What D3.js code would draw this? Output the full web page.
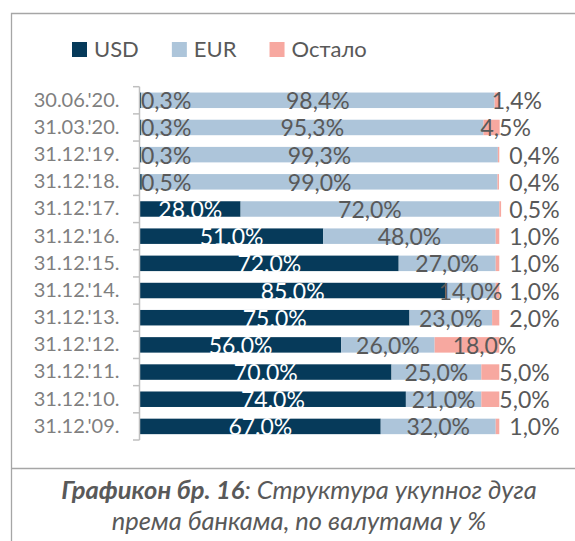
<!DOCTYPE html>
<html>
<head>
    <meta charset="UTF-8">
    <script src="https://d3js.org/d3.v7.min.js"></script>
    <style>
        body {
            margin: 0;
            background: #ffffff;
            font-family: Lato, "Open Sans", sans-serif;
        }
    </style>
</head>
<body>
    <div id="chart"></div>

    <script type="text/javascript">
        // chart values
        const categories = ["30.06.'20.", "31.03.'20.", "31.12.'19.", "31.12.'18.", "31.12.'17.",
            "31.12.'16.", "31.12.'15.", "31.12.'14.", "31.12.'13.", "31.12.'12.",
            "31.12.'11.", "31.12.'10.", "31.12.'09."];
        const usd = [0.3, 0.3, 0.3, 0.5, 28.0, 51.0, 72.0, 85.0, 75.0, 56.0, 70.0, 74.0, 67.0];
        const eur = [98.4, 95.3, 99.3, 99.0, 72.0, 48.0, 27.0, 14.0, 23.0, 26.0, 25.0, 21.0, 32.0];
        const other = [1.4, 4.5, 0.4, 0.4, 0.5, 1.0, 1.0, 1.0, 2.0, 18.0, 5.0, 5.0, 1.0];
        const seriesNames = ["USD", "EUR", "Остало"];
        const colors = ["#063a5a", "#adc5da", "#f7a8a0"];

        const W = 575, H = 541;
        const svg = d3.select("#chart").append("svg")
            .attr("width", W)
            .attr("height", H);

        // frame and caption separator
        svg.append("path")
            .attr("d", `M${W + 5},13.5 H11.5 V${H + 5}`)
            .attr("fill", "none")
            .attr("stroke", "#a6a6a6")
            .attr("stroke-width", 1.3);
        svg.append("line")
            .attr("x1", 11.5).attr("x2", W + 5)
            .attr("y1", 468.5).attr("y2", 468.5)
            .attr("stroke", "#a6a6a6")
            .attr("stroke-width", 1.3);

        // data table
        const table = categories.map((c, i) => ({ cat: c, USD: usd[i], EUR: eur[i], "Остало": other[i] }));
        const stacked = d3.stack().keys(seriesNames)(table);

        const x = d3.scaleLinear().domain([0, 100]).range([140, 499.3]);
        const y = d3.scaleBand().domain(categories).range([86.7, 440])
            .paddingInner(0.43).paddingOuter(0.215);

        // bars
        stacked.forEach((s, si) => {
            svg.append("g")
                .selectAll("rect")
                .data(s)
                .join("rect")
                .attr("x", d => x(d[0]))
                .attr("y", d => y(d.data.cat))
                .attr("width", d => Math.max(0, x(d[1]) - x(d[0])))
                .attr("height", y.bandwidth())
                .attr("fill", colors[si]);
        });

        // category axis (labels only) + boundary ticks
        const yAxis = svg.append("g")
            .attr("transform", "translate(139.5,0)")
            .call(d3.axisLeft(y).tickSize(0).tickPadding(20));
        yAxis.select(".domain").remove();
        yAxis.selectAll("text")
            .style("font-family", "Lato, 'Open Sans', sans-serif")
            .style("font-size", "20px")
            .attr("fill", "#7f7f7f");

        const bounds = categories.map(c => y(c) - y.step() * y.paddingInner() / 2).concat([y.range()[1]]);
        svg.append("line")
            .attr("x1", 139.5).attr("x2", 139.5)
            .attr("y1", bounds[0]).attr("y2", bounds[bounds.length - 1])
            .attr("stroke", "#bfbfbf")
            .attr("stroke-width", 1.5);
        svg.append("g")
            .selectAll("line")
            .data(bounds)
            .join("line")
            .attr("x1", 133).attr("x2", 139.5)
            .attr("y1", d => d).attr("y2", d => d)
            .attr("stroke", "#bfbfbf")
            .attr("stroke-width", 1.5);

        // data labels
        const fmtDot = v => d3.format(".1f")(v) + "%";
        const fmtComma = v => fmtDot(v).replace(".", ",");
        const labelG = svg.append("g")
            .style("font-family", "Lato, 'Open Sans', sans-serif")
            .style("font-size", "23px");

        stacked.forEach((s, si) => {
            s.forEach(d => {
                const v = d[1] - d[0];
                const cy = y(d.data.cat) + y.bandwidth() / 2 + 9;
                const x0 = x(d[0]), x1 = x(d[1]);
                let tx, anchor = "middle", fill = "#595959", txt = fmtComma(v);
                if (si === 0) {
                    if (v >= 10) {
                        tx = (x0 + x1) / 2; fill = "#ffffff"; txt = fmtDot(v);
                    } else {
                        tx = x0 + 1; anchor = "start";
                    }
                } else if (si === 1) {
                    tx = (x0 + x1) / 2;
                } else {
                    anchor = "start";
                    if (!d.data.cat.startsWith("31.12.")) tx = x0 - 3;
                    else if (v < 3) tx = x(100) + 10;
                    else tx = x0 + 18;
                }
                labelG.append("text")
                    .attr("x", tx)
                    .attr("y", cy)
                    .attr("text-anchor", anchor)
                    .attr("fill", fill)
                    .text(txt);
            });
        });

        // legend
        const legend = svg.append("g")
            .style("font-family", "Lato, 'Open Sans', sans-serif")
            .style("font-size", "22px");
        let lx = 72;
        seriesNames.forEach((name, i) => {
            legend.append("rect")
                .attr("x", lx).attr("y", 42)
                .attr("width", 15).attr("height", 15)
                .attr("fill", colors[i]);
            const t = legend.append("text")
                .attr("x", lx + 22)
                .attr("y", 57)
                .attr("fill", "#595959")
                .text(name);
            lx += 22 + t.node().getComputedTextLength() + 33;
        });

        // caption
        const cap = svg.append("g")
            .style("font-family", "Lato, 'Open Sans', sans-serif")
            .style("font-size", "25.5px")
            .style("font-style", "italic")
            .attr("fill", "#595959")
            .attr("text-anchor", "middle");
        const line1 = cap.append("text").attr("x", 299).attr("y", 499);
        line1.append("tspan").style("font-weight", "bold").text("Графикон бр. 16");
        line1.append("tspan").text(": Структура укупног дуга");
        cap.append("text").attr("x", 299).attr("y", 530)
            .text("према банкама, по валутама у %");
    </script>
</body>
</html>
